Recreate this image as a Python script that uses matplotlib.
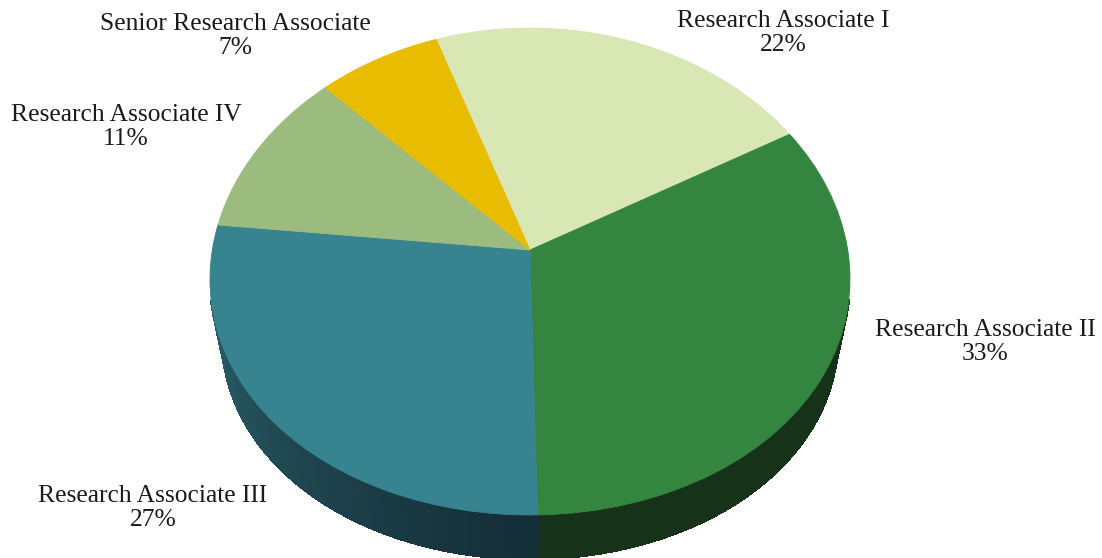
import numpy as np
import matplotlib
matplotlib.use("Agg")
import matplotlib.pyplot as plt
from matplotlib.collections import PolyCollection
from matplotlib.transforms import Transform
from matplotlib.colors import to_rgb

categories = ["Research Associate I", "Research Associate II", "Research Associate III",
              "Research Associate IV", "Senior Research Associate"]
values = [22, 33, 27, 11, 7]
top_colors = ["#d8e7b4", "#348540", "#378390", "#9cbb7f", "#e8bc00"]
label_centers = [(783, 33), (985, 342), (153, 508), (126, 127), (235, 36)]

W, H = 1102, 558
CX, APEX_Y = 530.0, 250.0
A, B, K, KX = 241.6, 317.7, 0.0883, 0.12
SX, SY, BASE_APEX_Y = 0.9625, 0.94, 310.0


class Perspective(Transform):
    """Tilts the unit-circle pie into the reference's pixel space."""
    input_dims = output_dims = 2
    is_separable = False

    def __init__(self, sx=1.0, sy=1.0, apex=APEX_Y):
        super().__init__()
        self.sx, self.sy, self.apex = sx, sy, apex

    def transform_non_affine(self, values):
        v = np.asarray(values, float)
        return np.column_stack([CX + self.sx * B * v[:, 0] / (1 + KX * v[:, 1]),
                                self.apex - self.sy * A * v[:, 1] / (1 + K * v[:, 1])])


def side_color(i, t):
    """Shade of the rim for slice i; t is the angle in degrees."""
    if i == 2:  # teal slice: gradient darkening toward the front
        f = np.clip((t + 180) / 90.0, 0, 1)
        c0, c1 = np.array(to_rgb("#2f6b75")), np.array(to_rgb("#142d36"))
        return tuple(c0 + (c1 - c0) * f ** 0.8)
    return to_rgb("#16331a")


fig = plt.figure(figsize=(W / 100, H / 100), dpi=100)
ax = fig.add_axes([0, 0, 1, 1])
wedges, _ = ax.pie(values, colors=top_colors, startangle=109.2, counterclock=False,
                   radius=1.0, wedgeprops={"linewidth": 0.6})
ax.set_aspect("auto")
ax.set_xlim(0, W)
ax.set_ylim(H, 0)
ax.axis("off")

top_tf = Perspective()
base_tf = Perspective(SX, SY, BASE_APEX_Y)
for w, c in zip(wedges, top_colors):
    w.set_transform(top_tf + ax.transData)
    w.set_edgecolor(c)
    w.set_zorder(3)

# Rim: thin quads between the top edge and the base edge of each front slice
quads, quad_colors = [], []
for i, w in enumerate(wedges):
    t1, t2 = w.theta1, w.theta2
    ts = np.arange(t1, t2 + 1.0, 1.0)
    ts = np.append(ts[ts < t2], t2)
    for a, b in zip(ts[:-1], ts[1:]):
        am = ((a + 180) % 360) - 180
        if np.sin(np.radians((a + b) / 2)) > -0.2:
            continue
        pts = np.array([[np.cos(np.radians(a)), np.sin(np.radians(a))],
                        [np.cos(np.radians(b)), np.sin(np.radians(b))]])
        p_top = top_tf.transform_non_affine(pts)
        p_base = base_tf.transform_non_affine(pts)
        quads.append([p_top[0], p_top[1], p_base[1], p_base[0]])
        quad_colors.append(side_color(i, am))
ax.add_collection(PolyCollection(quads, facecolors=quad_colors, edgecolors=quad_colors,
                                 linewidths=1.0, antialiaseds=False, zorder=2))

for name, val, (x, y) in zip(categories, values, label_centers):
    ax.text(x, y, f"{name}\n{val}%", ha="center", va="center", fontsize=18.4,
            family="Liberation Serif", color="#1a1a1a", linespacing=1.17, zorder=4)

fig.savefig("out.png", dpi=100)
